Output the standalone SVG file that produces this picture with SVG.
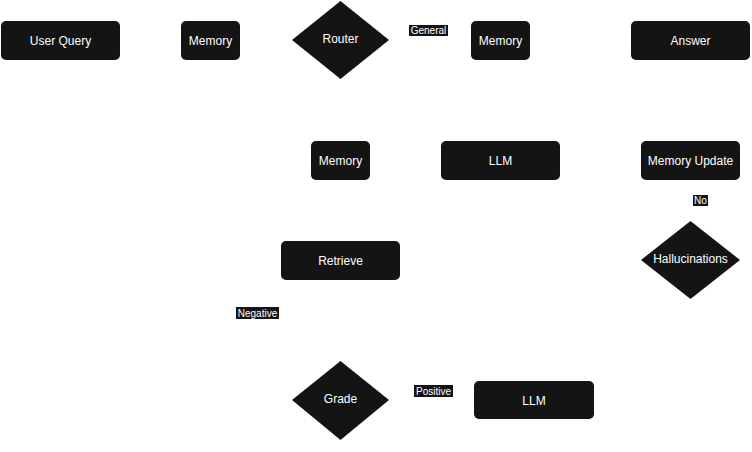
<svg xmlns="http://www.w3.org/2000/svg" width="752" height="452" viewBox="0 0 752 452">
<style>
.n{fill:#141414;stroke:none}
.t{fill:#fff;font-family:"Liberation Sans",Arial,sans-serif;font-size:12px;text-anchor:middle;dominant-baseline:central}
.lb{fill:#141414}
.lt{fill:#fff;font-family:"Liberation Sans",Arial,sans-serif;font-size:10px;text-anchor:middle;dominant-baseline:central}
</style>
<rect width="752" height="452" fill="#fff"/>
<g id="connectors"></g>
<g id="user_query"><rect class="n" x="1" y="21" width="119" height="39" rx="5"/><text class="t" x="60.5" y="40.5">User Query</text></g>
<g id="memory1"><rect class="n" x="181" y="21" width="59" height="39" rx="5"/><text class="t" x="210.5" y="40.5">Memory</text></g>
<g id="router"><polygon class="n" points="340.5,1 389,40 340.5,79 292,40"/><text class="t" x="340.5" y="39">Router</text></g>
<g id="label_general"><rect class="lb" x="409" y="25" width="39" height="11"/><text class="lt" x="428.5" y="30.5">General</text></g>
<g id="memory2"><rect class="n" x="471" y="21" width="59" height="39" rx="5"/><text class="t" x="500.5" y="40.5">Memory</text></g>
<g id="answer"><rect class="n" x="631" y="21" width="119" height="39" rx="5"/><text class="t" x="690.5" y="40.5">Answer</text></g>
<g id="memory3"><rect class="n" x="311" y="141" width="59" height="39" rx="5"/><text class="t" x="340.5" y="160.5">Memory</text></g>
<g id="llm1"><rect class="n" x="441" y="141" width="119" height="39" rx="5"/><text class="t" x="500.5" y="160.5">LLM</text></g>
<g id="memory_update"><rect class="n" x="641" y="141" width="99" height="39" rx="5"/><text class="t" x="690.5" y="160.5">Memory Update</text></g>
<g id="label_no"><rect class="lb" x="693" y="195" width="15" height="11"/><text class="lt" x="700.5" y="200.5">No</text></g>
<g id="retrieve"><rect class="n" x="281" y="241" width="119" height="39" rx="5"/><text class="t" x="340.5" y="260.5">Retrieve</text></g>
<g id="hallucinations"><polygon class="n" points="690.5,221 740,260 690.5,299 641,260"/><text class="t" x="690.5" y="259">Hallucinations</text></g>
<g id="label_negative"><rect class="lb" x="236" y="307" width="43" height="12"/><text class="lt" x="257.5" y="313">Negative</text></g>
<g id="grade"><polygon class="n" points="340.5,361 389,400 340.5,440 292,400"/><text class="t" x="340.5" y="399">Grade</text></g>
<g id="label_positive"><rect class="lb" x="414" y="385" width="39" height="12"/><text class="lt" x="433.5" y="391">Positive</text></g>
<g id="llm2"><rect class="n" x="474" y="381" width="120" height="38" rx="5"/><text class="t" x="534" y="400.5">LLM</text></g>
</svg>
